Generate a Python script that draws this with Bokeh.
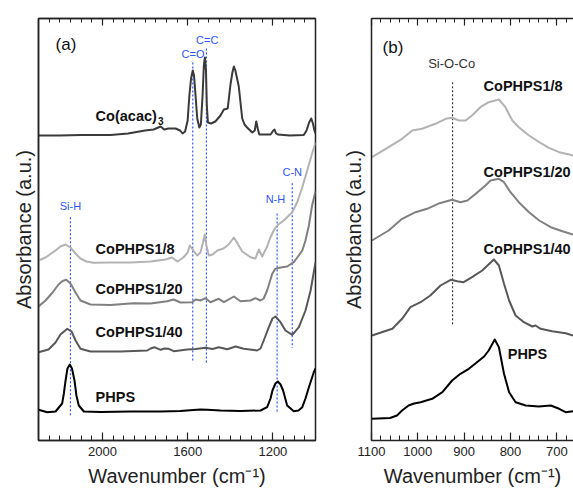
from bokeh.plotting import figure
from bokeh.layouts import row
from bokeh.models import Range1d, LinearAxis, FixedTicker, Title
from bokeh.core.properties import value
from bokeh.embed import file_html
from bokeh.resources import INLINE

FONT = "Liberation Sans"

# ---------------- panel (a) data: wavenumber (cm-1) / absorbance (a.u., offset) ----------------
coacac_wn = [2300, 2200, 2100, 1962, 1880, 1800, 1760, 1727, 1710, 1690, 1657, 1635, 1624, 1612,
             1600, 1592, 1584, 1576, 1570, 1563, 1555, 1545, 1538, 1530, 1524, 1519, 1514, 1510,
             1505, 1490, 1470, 1446, 1430, 1412, 1399, 1390, 1383, 1376, 1366, 1360, 1352, 1344,
             1333, 1321, 1297, 1285, 1278, 1271, 1264, 1240, 1211, 1198, 1192, 1185, 1177, 1120,
             1055, 1042, 1030, 1020, 1012, 1005, 1000]
coacac_abs = [305, 305, 305.5, 305.5, 307, 310, 311, 314, 311, 312, 312, 310, 307, 309,
              320, 345, 362, 370, 365, 345, 322, 313, 316, 345, 375, 383, 370, 335,
              318, 317, 319, 325, 331, 332, 356, 368, 374, 370, 360, 354, 338, 322,
              316, 313, 308, 310, 319, 312, 306, 306, 306, 310, 311, 307, 306, 305,
              305.5, 310, 318, 322, 317, 310, 307]

s18_wn = [2300, 2267, 2220, 2197, 2173, 2150, 2126, 2103, 2075, 2042, 1962, 1868, 1774, 1704,
          1673, 1648, 1620, 1600, 1590, 1573, 1555, 1540, 1528, 1520, 1512, 1501, 1483, 1461,
          1432, 1408, 1383, 1366, 1344, 1305, 1282, 1266, 1250, 1227, 1211, 1196, 1180, 1149,
          1109, 1086, 1062, 1039, 1016, 1000]
s18_abs = [180, 183, 190, 194, 196, 193, 187, 182, 179, 177.7, 178, 178, 179, 181,
           183, 179, 183, 188, 195, 190, 185, 188, 198, 206, 195, 185, 186, 190,
           192, 196, 203, 197, 189, 183.3, 182, 191, 184, 194, 203.3, 210, 215, 220,
           228.3, 238.3, 253.3, 270, 287, 298]

s120_wn = [2300, 2267, 2234, 2206, 2187, 2170, 2150, 2126, 2103, 2056, 1962, 1854, 1774, 1696,
           1666, 1634, 1579, 1563, 1540, 1516, 1493, 1454, 1430, 1383, 1352, 1305, 1282, 1258,
           1243, 1227, 1203, 1188, 1164, 1133, 1102, 1082, 1062, 1047, 1031, 1016, 1000]
s120_abs = [134, 140, 148, 156, 159.5, 160.7, 157, 148, 140, 136, 135.5, 137.3, 137, 139.3,
            141, 138, 138.3, 141, 140, 142.3, 138.3, 141.7, 138.3, 144, 139.3, 140, 142.3, 140,
            142, 150, 166.7, 171.7, 173, 174, 178.3, 184, 190, 200, 215, 235, 249]

s140_wn = [2300, 2253, 2220, 2197, 2165, 2145, 2126, 2103, 2056, 1915, 1790, 1774, 1756, 1727,
           1709, 1689, 1665, 1602, 1563, 1516, 1483, 1454, 1414, 1375, 1337, 1274, 1258, 1243,
           1219, 1202, 1188, 1164, 1141, 1109, 1078, 1047, 1023, 1000]
s140_abs = [88.3, 91, 98, 106, 111.7, 109, 100, 91.7, 89, 89, 90, 92, 93.3, 90.7,
            92, 91.7, 89.3, 91, 91.5, 92.7, 91.5, 93.3, 91.3, 94, 91.7, 90, 92, 100,
            113.3, 122, 124, 118.3, 110, 105.7, 113.3, 130, 150, 178]

phps_wn = [2300, 2259, 2220, 2189, 2181, 2173, 2164, 2153, 2143, 2131, 2122, 2111, 2087, 2009,
           1868, 1727, 1634, 1573, 1540, 1507, 1446, 1352, 1258, 1227, 1211, 1202, 1188, 1177,
           1164, 1152, 1133, 1102, 1080, 1062, 1047, 1031, 1008, 1000]
phps_abs = [30.7, 28.3, 29, 37, 47, 60, 72, 76, 72, 60, 45, 35, 29, 28.5,
            29, 29, 29.5, 30.5, 31, 30.7, 30, 29.5, 30, 33.3, 42, 50, 57, 59,
            56, 50, 35, 29.3, 30, 33.3, 42, 53.3, 68.3, 72]

a_series = [(coacac_wn, coacac_abs, "#3a3a3a"), (s18_wn, s18_abs, "#b3b3b3"),
            (s120_wn, s120_abs, "#808080"), (s140_wn, s140_abs, "#585858"),
            (phps_wn, phps_abs, "#000000")]

a_label_text = ["Co(acac)", "CoPHPS1/8", "CoPHPS1/20", "CoPHPS1/40", "PHPS"]
a_label_wn = [2032, 2032, 2032, 2032, 2032]
a_label_y = [325, 192, 152, 108.3, 43.3]

a_mark_text = ["C=O", "C=C", "Si-H", "N-H", "C-N"]
a_mark_wn = [1576, 1512, 2150, 1180, 1109]
a_mark_text_wn = [1575, 1508, 2150, 1188, 1109]
a_mark_text_y = [386.7, 400.7, 235, 241.7, 268.3]
a_mark_top = [378, 392, 223.3, 227, 257.3]
a_mark_bot = [80, 77.3, 25, 27.3, 92.7]

a_major = [2000, 1600, 1200]
a_minor = list(range(1000, 2301, 50))

# ---------------- panel (b) data ----------------
b18_wn = [1099, 1063, 1034, 1012, 991, 962, 940, 926, 911, 897, 883, 865, 847, 825, 811, 796,
          782, 760, 738, 717, 695, 673, 665]
b18_abs = [283.3, 293.3, 301.7, 310, 311.7, 316.7, 321.7, 322.7, 320, 320, 325, 333.3, 338.3,
           341, 333.3, 320, 313.3, 305, 298.3, 292.7, 288.3, 286, 285]

b120_wn = [1099, 1063, 1034, 1005, 980, 953, 926, 908, 893, 875, 854, 843, 825, 814, 800, 782,
           760, 738, 713, 688, 665]
b120_abs = [200, 210, 221.7, 228.3, 231.7, 237.3, 240.7, 238.3, 240, 246.7, 255, 260, 261.7,
            258.3, 248.3, 238.3, 228.3, 220, 213.3, 209.3, 206]

b140_wn = [1099, 1055, 1034, 1016, 994, 973, 951, 929, 915, 901, 883, 861, 836, 825, 814, 803,
           789, 771, 753, 746, 735, 710, 681, 665]
b140_abs = [105, 111.7, 121.7, 133.3, 138.3, 145, 155, 160.7, 159.3, 158.3, 163.3, 170, 181,
            175, 156.7, 140, 125, 118.3, 114, 115, 111.7, 109.3, 107.3, 105]

bphps_wn = [1099, 1060, 1045, 1034, 1020, 1008, 994, 969, 947, 926, 908, 890, 875, 857, 847,
            834, 825, 814, 803, 789, 767, 739, 713, 695, 681, 665]
bphps_abs = [21.7, 22.5, 25, 30, 35, 37, 38.3, 41.7, 48.3, 60, 66.7, 71.7, 77.3, 84, 90,
             101, 93.3, 66.7, 48.3, 38.3, 35, 34, 35, 31.7, 28.3, 29.3]

b_series = [(b18_wn, b18_abs, "#b3b3b3"), (b120_wn, b120_abs, "#808080"),
            (b140_wn, b140_abs, "#585858"), (bphps_wn, bphps_abs, "#000000")]

b_label_text = ["CoPHPS1/8", "CoPHPS1/20", "CoPHPS1/40", "PHPS"]
b_label_wn = [858, 858, 858, 806]
b_label_y = [355, 268.3, 191.7, 86.7]

b_mark_wn = [925]
b_mark_top = [358.3]
b_mark_bot = [116]

b_major = [1100, 1000, 900, 800, 700]
b_minor = list(range(680, 1101, 20))

FRAME = "#222222"
XTITLE = "Wavenumber (cm\u207b\u00b9)"
YTITLE = "Absorbance (a.u.)"


def add_x_axes(p, major, minor, title_offset):
    for side in ("below", "above"):
        ax = LinearAxis(ticker=FixedTicker(ticks=major, minor_ticks=minor))
        ax.axis_line_color = FRAME
        ax.axis_line_width = 1.5
        ax.major_tick_line_color = FRAME
        ax.minor_tick_line_color = FRAME
        ax.major_tick_line_width = 1.2
        ax.minor_tick_line_width = 1.0
        ax.major_tick_in = 8
        ax.major_tick_out = 0
        ax.minor_tick_in = 5
        ax.minor_tick_out = 0
        ax.major_label_text_font = FONT
        ax.major_label_text_color = "#222222"
        if side == "below":
            ax.major_label_text_font_size = "13px"
            ax.major_label_standoff = 6
        else:
            ax.major_label_text_font_size = "1px"
            ax.major_label_text_color = None
            ax.major_label_standoff = 0
            ax.major_tick_in = 7
            ax.minor_tick_in = 4
        p.add_layout(ax, side)
    p.add_layout(Title(text=XTITLE, align="center", offset=title_offset, standoff=8,
                       text_font=FONT, text_font_size="20px", text_font_style="normal",
                       text_color="#222222"), "below")


def add_left_axis(p, standoff):
    ax = LinearAxis(ticker=FixedTicker(ticks=[]))
    ax.axis_line_color = FRAME
    ax.axis_line_width = 1.5
    ax.major_label_text_font_size = "1px"
    ax.major_label_text_color = None
    ax.major_label_standoff = 0
    ax.axis_label = YTITLE
    ax.axis_label_text_font = FONT
    ax.axis_label_text_font_size = "20px"
    ax.axis_label_text_font_style = "normal"
    ax.axis_label_text_color = "#222222"
    ax.axis_label_standoff = standoff
    p.add_layout(ax, "left")


# ---------------- figure (a) ----------------
p1 = figure(width=330, height=496, x_range=Range1d(2300, 1000), y_range=Range1d(0, 422),
            x_axis_type=None, y_axis_type=None, output_backend="svg", toolbar_location=None,
            min_border_left=38, min_border_right=15, min_border_top=18, min_border_bottom=56)
p1.outline_line_color = FRAME
p1.outline_line_width = 1.5
p1.background_fill_color = "white"
p1.border_fill_color = "white"
add_x_axes(p1, a_major, a_minor, 2)
add_left_axis(p1, 4)

p1.segment(x0=a_mark_wn, y0=a_mark_top, x1=a_mark_wn, y1=a_mark_bot,
           line_color="#2f55ff", line_width=1.2, line_dash="2 2")
for wn, ab, col in a_series:
    p1.line(wn, ab, line_color=col, line_width=2, line_join="round")

p1.text(x=a_label_wn, y=a_label_y, text=a_label_text, text_font=value(FONT),
        text_font_size="14.5px", text_font_style="bold", text_color="#111111",
        text_align="left", text_baseline="middle")
p1.text(x=[1739], y=[320], text=["3"], text_font=value(FONT), text_font_size="10px",
        text_font_style="bold", text_color="#111111", text_align="left", text_baseline="middle")
p1.text(x=a_mark_text_wn, y=a_mark_text_y, text=a_mark_text, text_font=value(FONT),
        text_font_size="11px", text_color="#2f55ff", text_align="center", text_baseline="middle")
p1.text(x=[2220], y=[396], text=["(a)"], text_font=value(FONT), text_font_size="17px",
        text_color="#111111", text_align="left", text_baseline="middle")

# ---------------- figure (b) ----------------
p2 = figure(width=243, height=496, x_range=Range1d(1100, 664), y_range=Range1d(0, 422),
            x_axis_type=None, y_axis_type=None, output_backend="svg", toolbar_location=None,
            min_border_left=41, min_border_right=0, min_border_top=18, min_border_bottom=56)
p2.outline_line_color = None
p2.background_fill_color = "white"
p2.border_fill_color = "white"
add_x_axes(p2, b_major, b_minor, 9)
add_left_axis(p2, 7)

p2.segment(x0=b_mark_wn, y0=b_mark_top, x1=b_mark_wn, y1=b_mark_bot,
           line_color="#333333", line_width=1.1, line_dash="2 2")
for wn, ab, col in b_series:
    p2.line(wn, ab, line_color=col, line_width=2, line_join="round")

p2.text(x=b_label_wn, y=b_label_y, text=b_label_text, text_font=value(FONT),
        text_font_size="14.5px", text_font_style="bold", text_color="#111111",
        text_align="left", text_baseline="middle")
p2.text(x=[927], y=[376.7], text=["Si-O-Co"], text_font=value(FONT), text_font_size="13px",
        text_color="#333333", text_align="center", text_baseline="middle")
p2.text(x=[1076], y=[393.3], text=["(b)"], text_font=value(FONT), text_font_size="17px",
        text_color="#111111", text_align="left", text_baseline="middle")

layout = row(p1, p2)
open("out.html", "w").write(file_html(layout, INLINE))
